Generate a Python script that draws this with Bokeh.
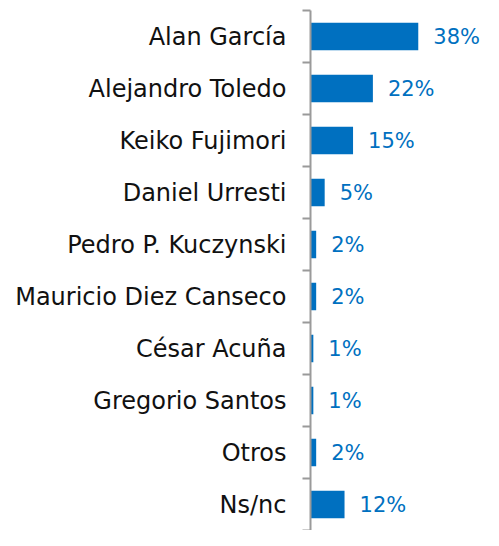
from bokeh.plotting import figure
from bokeh.models import Range1d, FixedTicker, ColumnDataSource
from bokeh.core.properties import value
from bokeh.embed import file_html
from bokeh.resources import INLINE

categories = ["Alan García", "Alejandro Toledo", "Keiko Fujimori", "Daniel Urresti",
              "Pedro P. Kuczynski", "Mauricio Diez Canseco", "César Acuña",
              "Gregorio Santos", "Otros", "Ns/nc"]
values = [38, 22, 15, 5, 2, 2, 1, 1, 2, 12]
labels = ["38%", "22%", "15%", "5%", "2%", "2%", "1%", "1%", "2%", "12%"]

n = len(categories)
ypos = [i + 0.5 for i in range(n)]

src = ColumnDataSource(dict(y=ypos, v=values, lab=labels))

p = figure(width=483, height=530, output_backend="svg", toolbar_location=None,
           x_range=Range1d(0, 61), y_range=Range1d(n, 0),
           min_border_left=310, min_border_right=0, min_border_top=10, min_border_bottom=0)
p.outline_line_color = None
p.xgrid.visible = False
p.ygrid.visible = False
p.xaxis.visible = False

p.hbar(y="y", right="v", left=0, height=0.53, source=src,
       fill_color="#0070C0", line_color=None)
p.text(x="v", y="y", text="lab", source=src, x_offset=15,
       text_align="left", text_baseline="middle",
       text_font=value("DejaVu Sans"), text_font_size="21px", text_color="#0070C0")

ax = p.yaxis[0]
ax.ticker = FixedTicker(ticks=ypos, minor_ticks=list(range(n + 1)))
ax.major_label_overrides = {y: c for y, c in zip(ypos, categories)}
ax.major_tick_line_color = None
ax.major_tick_out = 0
ax.major_tick_in = 0
ax.minor_tick_out = 8
ax.minor_tick_in = 0
ax.minor_tick_line_color = "#9a9a9a"
ax.minor_tick_line_width = 2
ax.axis_line_color = "#9a9a9a"
ax.axis_line_width = 2
ax.major_label_standoff = 16
ax.major_label_text_font = "DejaVu Sans"
ax.major_label_text_font_size = "24px"
ax.major_label_text_color = "#111111"

open("out.html", "w").write(file_html(p, INLINE))
